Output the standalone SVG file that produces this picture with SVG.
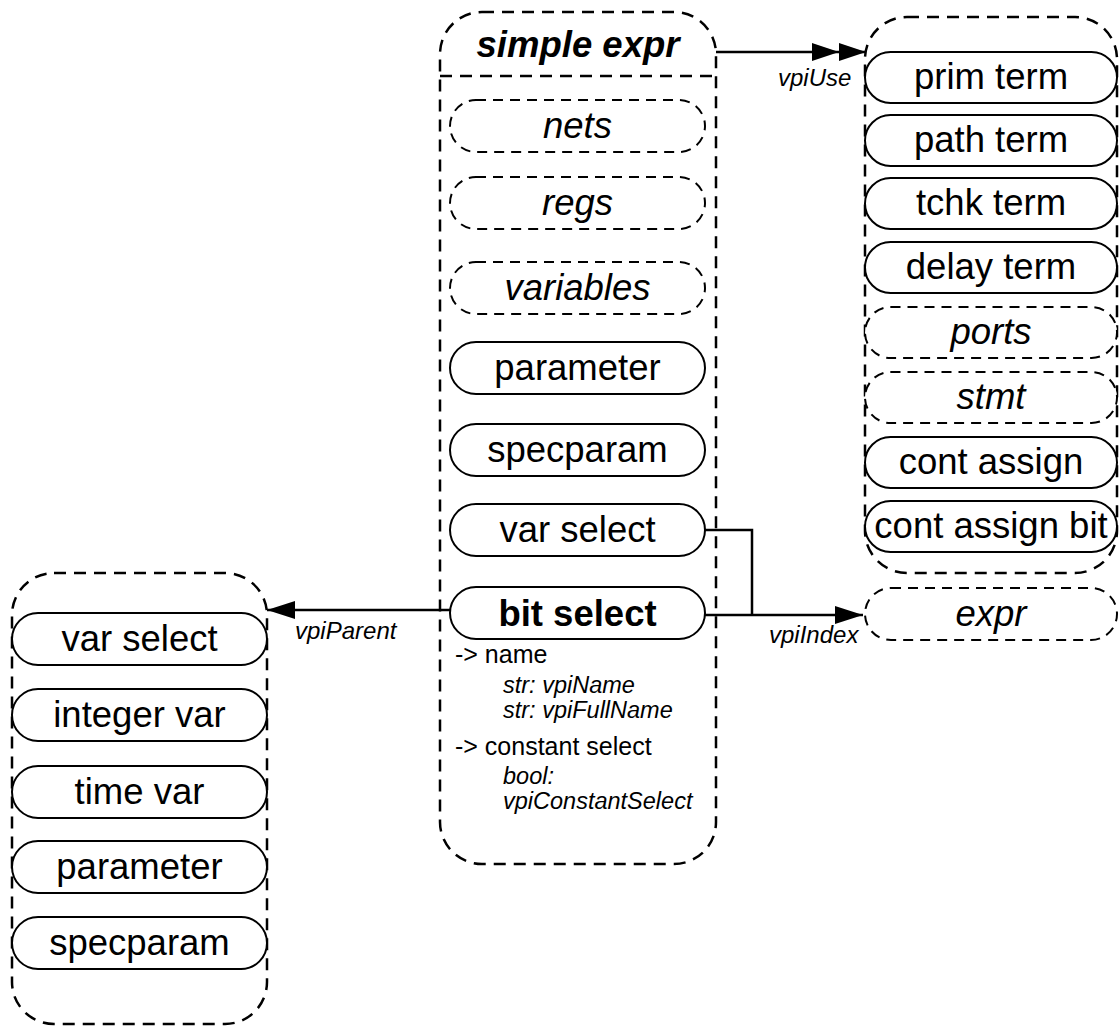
<svg xmlns="http://www.w3.org/2000/svg" width="1119" height="1028" viewBox="0 0 1119 1028">
<defs>
<style>
.cont{fill:none;stroke:#000;stroke-width:2.5;stroke-dasharray:12 8}
.n{fill:#fff;stroke:#000;stroke-width:2}
.nd{fill:#fff;stroke:#000;stroke-width:2;stroke-dasharray:10 7}
.t{font-family:"Liberation Sans",Arial,sans-serif;font-size:36.5px;text-anchor:middle;fill:#000}
.i{font-style:italic}
.b{font-weight:bold}
.lbl{font-family:"Liberation Sans",Arial,sans-serif;font-size:24px;font-style:italic;fill:#000}
.attr{font-family:"Liberation Sans",Arial,sans-serif;font-size:25px;fill:#000}
.ai{font-family:"Liberation Sans",Arial,sans-serif;font-size:23.5px;font-style:italic;fill:#000}
.edge{fill:none;stroke:#000;stroke-width:2.5}
</style>
<marker id="arr" markerUnits="userSpaceOnUse" viewBox="0 0 28 18" refX="28" refY="9" markerWidth="28" markerHeight="18" orient="auto"><path d="M0,0 L28,9 L0,18 Z" fill="#000"/></marker>
<marker id="arr2" markerUnits="userSpaceOnUse" viewBox="0 0 54 18" refX="54" refY="9" markerWidth="54" markerHeight="18" orient="auto"><path d="M0,0 L27,9 L0,18 Z M27,0 L54,9 L27,18 Z" fill="#000"/></marker>
</defs>
<rect width="1119" height="1028" fill="#fff"/>

<g id="simple_expr">
<rect class="cont" x="440" y="12" width="276" height="852" rx="42"/>
<line class="cont" x1="440" y1="76" x2="716" y2="76"/>
<text class="t i b" x="578" y="57">simple expr</text>
<text class="attr" x="455" y="663">-&gt; name</text>
<text class="ai" x="503" y="693">str: vpiName</text>
<text class="ai" x="503" y="718">str: vpiFullName</text>
<text class="attr" x="455" y="755">-&gt; constant select</text>
<text class="ai" x="503" y="784">bool:</text>
<text class="ai" x="503" y="809">vpiConstantSelect</text>
</g>
<g id="c_nets"><rect class="nd" x="450" y="100" width="255" height="52" rx="26"/><text class="t i" x="577.5" y="138">nets</text></g>
<g id="c_regs"><rect class="nd" x="450" y="177" width="255" height="52" rx="26"/><text class="t i" x="577.5" y="215">regs</text></g>
<g id="c_variables"><rect class="nd" x="450" y="262" width="255" height="52" rx="26"/><text class="t i" x="577.5" y="300">variables</text></g>
<g id="c_parameter"><rect class="n" x="450" y="342" width="255" height="52" rx="26"/><text class="t" x="577.5" y="380">parameter</text></g>
<g id="c_specparam"><rect class="n" x="450" y="424" width="255" height="52" rx="26"/><text class="t" x="577.5" y="462">specparam</text></g>
<g id="c_var_select"><rect class="n" x="450" y="504" width="255" height="52" rx="26"/><text class="t" x="577.5" y="542">var select</text></g>
<g id="c_bit_select"><rect class="n" x="450" y="587" width="255" height="52" rx="26"/><text class="t b" x="577.5" y="626">bit select</text></g>

<g id="use_group"><rect class="cont" x="865" y="17" width="252" height="556" rx="42"/></g>
<g id="r_prim_term"><rect class="n" x="865" y="52" width="252" height="51" rx="25.5"/><text class="t" x="991" y="89">prim term</text></g>
<g id="r_path_term"><rect class="n" x="865" y="115" width="252" height="51" rx="25.5"/><text class="t" x="991" y="152">path term</text></g>
<g id="r_tchk_term"><rect class="n" x="865" y="178" width="252" height="51" rx="25.5"/><text class="t" x="991" y="215">tchk term</text></g>
<g id="r_delay_term"><rect class="n" x="865" y="242" width="252" height="51" rx="25.5"/><text class="t" x="991" y="279">delay term</text></g>
<g id="r_ports"><rect class="nd" x="865" y="307" width="252" height="51" rx="25.5"/><text class="t i" x="991" y="344">ports</text></g>
<g id="r_stmt"><rect class="nd" x="865" y="372" width="252" height="51" rx="25.5"/><text class="t i" x="991" y="409">stmt</text></g>
<g id="r_cont_assign"><rect class="n" x="865" y="437" width="252" height="51" rx="25.5"/><text class="t" x="991" y="474">cont assign</text></g>
<g id="r_cont_assign_bit"><rect class="n" x="865" y="501" width="252" height="51" rx="25.5"/><text class="t" x="991" y="538">cont assign bit</text></g>
<g id="expr"><rect class="nd" x="865" y="588" width="252" height="52" rx="26"/><text class="t i" x="991" y="626">expr</text></g>

<g id="parent_group"><rect class="cont" x="12" y="573" width="255" height="451" rx="42"/></g>
<g id="l_var_select"><rect class="n" x="12" y="613" width="255" height="52" rx="26"/><text class="t" x="139.5" y="651">var select</text></g>
<g id="l_integer_var"><rect class="n" x="12" y="689" width="255" height="52" rx="26"/><text class="t" x="139.5" y="727">integer var</text></g>
<g id="l_time_var"><rect class="n" x="12" y="766" width="255" height="52" rx="26"/><text class="t" x="139.5" y="804">time var</text></g>
<g id="l_parameter"><rect class="n" x="12" y="841" width="255" height="52" rx="26"/><text class="t" x="139.5" y="879">parameter</text></g>
<g id="l_specparam"><rect class="n" x="12" y="917" width="255" height="52" rx="26"/><text class="t" x="139.5" y="955">specparam</text></g>

<g id="connectors">
<path class="edge" d="M716,52 L866,52" marker-end="url(#arr2)"/>
<text class="lbl" x="778" y="86">vpiUse</text>
<path class="edge" d="M450,610 L267,610" marker-end="url(#arr)"/>
<text class="lbl" x="295" y="639">vpiParent</text>
<path class="edge" d="M705,615 L863,615" marker-end="url(#arr)"/>
<path class="edge" d="M705,530 L752,530 L752,615"/>
<text class="lbl" x="769" y="643">vpiIndex</text>
</g>
</svg>
